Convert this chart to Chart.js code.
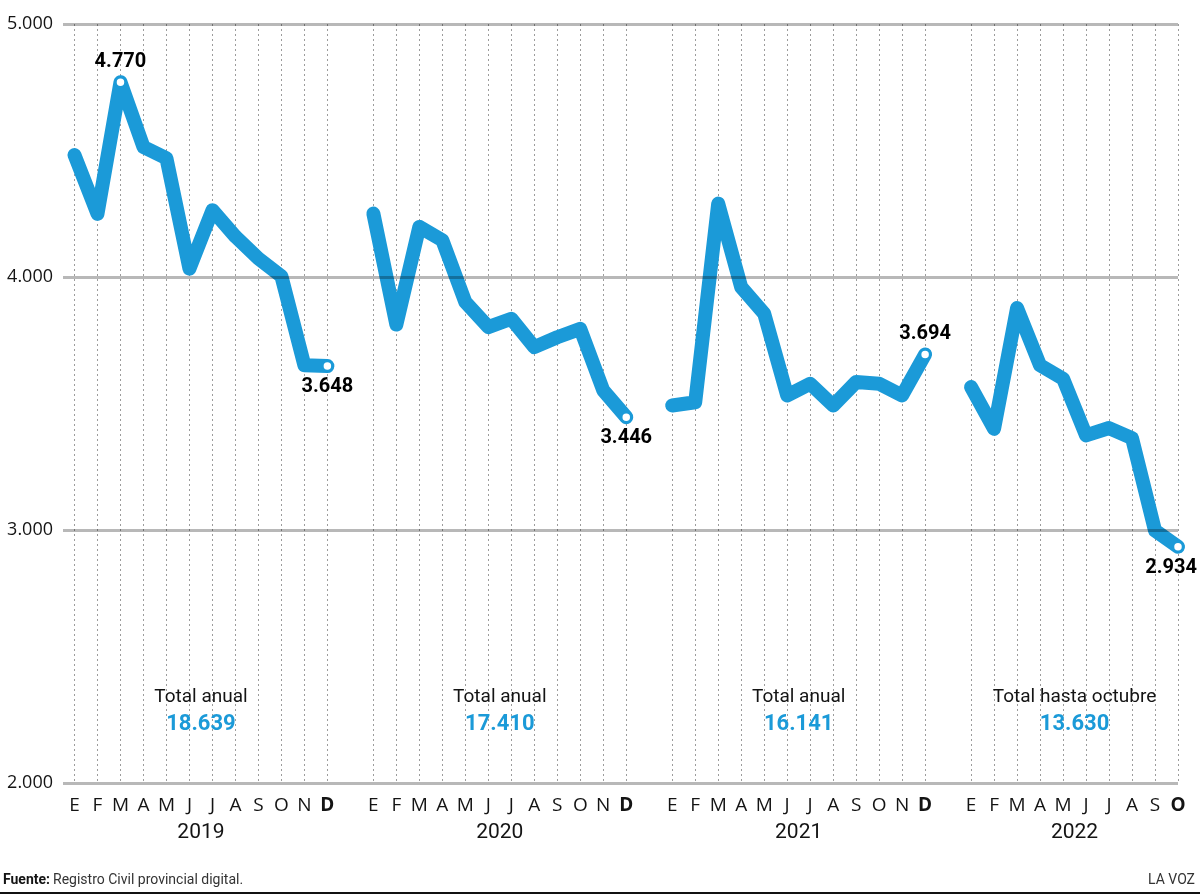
<!DOCTYPE html>
<html>
<head>
<meta charset="utf-8">
<script src="https://cdn.jsdelivr.net/npm/chart.js@4/dist/chart.umd.min.js"></script>
<style>
  html, body { margin: 0; padding: 0; background: #ffffff; }
  #wrap { width: 1200px; height: 895px; position: relative; }
</style>
</head>
<body>
<div id="wrap"><canvas id="c" width="1200" height="895"></canvas></div>
<script>
// ---- data ----
const years = ['2019', '2020', '2021', '2022'];
const monthLetters = ['E', 'F', 'M', 'A', 'M', 'J', 'J', 'A', 'S', 'O', 'N', 'D'];
const values2019 = [4482, 4250, 4770, 4514, 4469, 4033, 4264, 4160, 4073, 4003, 3651, 3648];
const values2020 = [4251, 3812, 4198, 4145, 3901, 3802, 3835, 3723, 3762, 3795, 3552, 3446];
const values2021 = [3492, 3505, 4290, 3960, 3855, 3532, 3578, 3492, 3585, 3578, 3532, 3694];
const values2022 = [3565, 3400, 3877, 3651, 3598, 3374, 3403, 3363, 2998, 2934];
const totalTitles = ['Total anual', 'Total anual', 'Total anual', 'Total hasta octubre'];
const totalValues = [18639, 17410, 16141, 13630];
const yTickValues = [2000, 3000, 4000, 5000];
// points carrying a value label: [year index, month index]
const labelledPoints = [[0, 2], [0, 11], [1, 11], [2, 11], [3, 9]];
const sourceBold = 'Fuente:';
const sourceText = 'Registro Civil provincial digital.';
const credit = 'LA VOZ';

// ---- build ----
const BLUE = '#1b9ad8';
const INK = '#141414';
const seriesByYear = [values2019, values2020, values2021, values2022];
const SLOT = 13; // 12 months + 1 empty gap slot
const fmt = v => String(v).replace(/\B(?=(\d{3})+(?!\d))/g, '.');

const points = [];
const tickInfo = {}; // x index -> {letter, bold}
seriesByYear.forEach((arr, yi) => {
  arr.forEach((v, mi) => {
    const x = yi * SLOT + mi;
    points.push({ x: x, y: v });
    tickInfo[x] = { letter: monthLetters[mi], bold: mi === arr.length - 1 };
  });
  if (yi < seriesByYear.length - 1) points.push({ x: yi * SLOT + 12, y: null });
});
const lastX = (seriesByYear.length - 1) * SLOT + seriesByYear[seriesByYear.length - 1].length - 1;
const labelledX = labelledPoints.map(([yi, mi]) => yi * SLOT + mi);

const overlay = {
  id: 'overlay',
  afterDatasetsDraw(chart) {
    const { ctx, scales: { x, y } } = chart;
    ctx.save();
    ctx.font = 'bold 20px Roboto';
    ctx.fillStyle = '#000';
    ctx.textAlign = 'center';
    ctx.textBaseline = 'middle';
    labelledPoints.forEach(([yi, mi]) => {
      const arr = seriesByYear[yi];
      const v = arr[mi];
      const prev = mi > 0 ? arr[mi - 1] : v;
      const px = x.getPixelForValue(yi * SLOT + mi);
      const py = y.getPixelForValue(v);
      const above = v > prev + 50;
      const txt = fmt(v);
      const w = ctx.measureText(txt).width;
      let cx = px;
      if (cx + w / 2 > chart.width - 3) cx = chart.width - 3 - w / 2;
      ctx.fillText(txt, cx, above ? py - 20 : py + 21);
    });
    ctx.restore();
  },
  afterDraw(chart) {
    const { ctx, scales: { x } } = chart;
    ctx.save();
    ctx.textAlign = 'center';
    ctx.textBaseline = 'middle';
    seriesByYear.forEach((arr, yi) => {
      const cx = x.getPixelForValue(yi * SLOT + (arr.length - 1) / 2);
      ctx.fillStyle = INK;
      ctx.font = '21px Roboto';
      ctx.fillText(years[yi], cx, 833);
      ctx.font = '19px Roboto';
      ctx.fillText(totalTitles[yi], cx, 697);
      ctx.fillStyle = BLUE;
      ctx.font = 'bold 22px Roboto';
      ctx.fillText(fmt(totalValues[yi]), cx, 724);
    });
    // footer
    ctx.textAlign = 'left';
    ctx.fillStyle = INK;
    ctx.font = 'bold 14px Roboto';
    ctx.fillText(sourceBold, 3, 880);
    const bw = ctx.measureText(sourceBold).width;
    ctx.font = '14px Roboto';
    ctx.fillStyle = '#333';
    ctx.fillText(sourceText, 3 + bw + 3, 880);
    ctx.textAlign = 'right';
    ctx.fillText(credit, 1195, 880);
    ctx.fillStyle = '#111';
    ctx.fillRect(0, 892, chart.width, 2);
    ctx.restore();
  }
};

new Chart(document.getElementById('c'), {
  type: 'line',
  data: {
    datasets: [{
      data: points,
      borderColor: BLUE,
      borderWidth: 14,
      borderJoinStyle: 'round',
      borderCapStyle: 'round',
      tension: 0,
      spanGaps: false,
      clip: false,
      pointRadius: c => labelledX.includes(c.raw && c.raw.x) ? 5 : 0,
      pointHoverRadius: c => labelledX.includes(c.raw && c.raw.x) ? 5 : 0,
      pointBackgroundColor: '#ffffff',
      pointBorderColor: BLUE,
      pointBorderWidth: 2.5
    }]
  },
  options: {
    responsive: false,
    animation: false,
    events: [],
    layout: { padding: { top: 24, right: 22, left: 0, bottom: 0 } },
    plugins: { legend: { display: false }, tooltip: { enabled: false } },
    scales: {
      x: {
        type: 'linear',
        min: -0.5,
        max: lastX,
        afterBuildTicks: s => { s.ticks = Object.keys(tickInfo).map(k => ({ value: +k })); },
        afterFit: s => { s.height = 112; },
        border: { display: false, dash: [2, 3] },
        grid: {
          color: c => (c.tick && tickInfo[c.tick.value]) ? '#9c9c9c' : 'rgba(0,0,0,0)',
          lineWidth: 1,
          drawTicks: false
        },
        ticks: {
          autoSkip: false,
          maxRotation: 0,
          padding: 11,
          color: INK,
          font: c => ({ family: 'Open Sans', size: 19, weight: (c.tick && tickInfo[c.tick.value] && tickInfo[c.tick.value].bold) ? 'bold' : 'normal' }),
          callback: v => tickInfo[v] ? tickInfo[v].letter : ''
        }
      },
      y: {
        min: 2000,
        max: 5000,
        afterBuildTicks: s => { s.ticks = yTickValues.map(v => ({ value: v })); },
        afterFit: s => { s.width = 63; },
        border: { display: false },
        grid: { color: 'rgba(0,0,0,0.28)', lineWidth: 3, drawTicks: false, z: 1 },
        ticks: {
          padding: 10,
          color: INK,
          font: { family: 'Open Sans', size: 18 },
          callback: v => fmt(v)
        }
      }
    }
  },
  plugins: [overlay]
});
</script>
</body>
</html>
